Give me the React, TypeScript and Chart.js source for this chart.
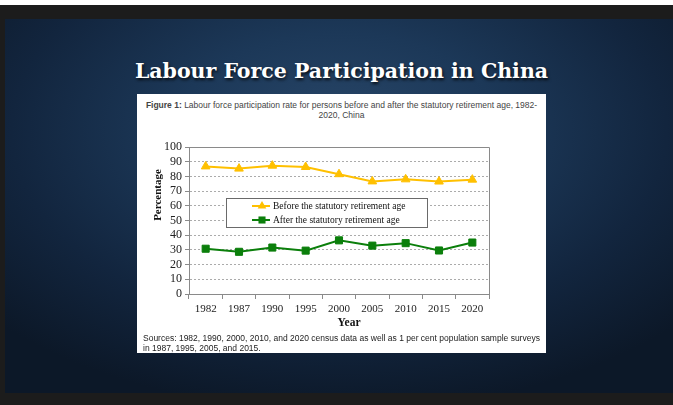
import React, { useEffect, useRef } from 'react';
import { Chart, registerables } from 'chart.js';

Chart.register(...registerables);

// ---- data ----
const YEARS = ['1982', '1987', '1990', '1995', '2000', '2005', '2010', '2015', '2020'];
const BEFORE = [86.8, 85.3, 87.3, 86.4, 81.5, 76.6, 78.0, 76.5, 77.8];
const AFTER = [30.8, 28.7, 31.6, 29.5, 36.5, 32.9, 34.6, 29.6, 35.0];
const SERIES_LABELS = ['Before the statutory retirement age', 'After the statutory retirement age'];
const Y_MIN = 0;
const Y_MAX = 100;
const Y_STEP = 10;
const Y_TITLE = 'Percentage';
const X_TITLE = 'Year';
const SLIDE_TITLE = 'Labour Force Participation in China';
const CAPTION_BOLD = 'Figure 1:';
const CAPTION_LINES = [' Labour force participation rate for persons before and after the statutory retirement age, 1982-', '2020, China'];
const SOURCE_LINES = [
  'Sources: 1982, 1990, 2000, 2010, and 2020 census data as well as 1 per cent population sample surveys',
  'in 1987, 1995, 2005, and 2015.',
];

const GOLD = '#FFC000';
const GREEN = '#0B7F0B';
const AXIS = '#8a8a8a';
const GRID = '#ababab';
const SERIF = "'Liberation Serif', 'Times New Roman', serif";
const SANS = "'Liberation Sans', Arial, sans-serif";
const TITLE_FONT = "'DejaVu Serif', serif";

function drawMarker(ctx: CanvasRenderingContext2D, style: string, x: number, y: number, r: number, color: string) {
  ctx.save();
  ctx.fillStyle = color;
  ctx.beginPath();
  if (style === 'triangle') {
    const h = r * 1.5;
    const w = r * Math.sqrt(3);
    ctx.moveTo(x, y - r);
    ctx.lineTo(x + w / 2, y - r + h);
    ctx.lineTo(x - w / 2, y - r + h);
    ctx.closePath();
  } else {
    const s = r * Math.SQRT1_2;
    ctx.rect(x - s, y - s, 2 * s, 2 * s);
  }
  ctx.fill();
  ctx.restore();
}

const decoPlugin = {
  id: 'deco',
  beforeDatasetsDraw(chart: any) {
    const { ctx, chartArea } = chart;
    const { left, top, right, bottom } = chartArea;
    ctx.save();
    ctx.strokeStyle = AXIS;
    ctx.lineWidth = 1;
    ctx.beginPath();
    ctx.moveTo(Math.round(left) + 0.5, Math.round(top) + 0.5);
    ctx.lineTo(Math.round(right) + 0.5, Math.round(top) + 0.5);
    ctx.lineTo(Math.round(right) + 0.5, Math.round(bottom) + 0.5);
    ctx.stroke();
    ctx.restore();
  },
  afterDatasetsDraw(chart: any) {
    const { ctx, chartArea } = chart;
    const { left, top, bottom } = chartArea;
    ctx.save();
    // legend box inside the plot
    const bx = left + 37;
    const by = top + 51;
    const bw = 201;
    const bh = 29;
    ctx.fillStyle = '#ffffff';
    ctx.fillRect(bx, by, bw, bh);
    ctx.strokeStyle = '#6a6a6a';
    ctx.lineWidth = 1;
    ctx.strokeRect(Math.round(bx) + 0.5, Math.round(by) + 0.5, bw, bh);
    const ds = chart.data.datasets;
    const rows = [by + 8, by + 22];
    ds.forEach((d: any, i: number) => {
      const y = rows[i];
      ctx.strokeStyle = d.borderColor;
      ctx.lineWidth = 2;
      ctx.beginPath();
      ctx.moveTo(bx + 26, y);
      ctx.lineTo(bx + 44, y);
      ctx.stroke();
      drawMarker(ctx, d.pointStyle, bx + 36, y, d.pointRadius, d.backgroundColor);
      ctx.fillStyle = '#111';
      ctx.font = `9.5px ${SERIF}`;
      ctx.textAlign = 'left';
      ctx.textBaseline = 'middle';
      ctx.fillText(d.label, bx + 47, y + 0.5);
    });
    // axis titles
    ctx.fillStyle = '#111';
    ctx.font = `bold 11px ${SERIF}`;
    ctx.textAlign = 'center';
    ctx.textBaseline = 'middle';
    ctx.save();
    ctx.translate(left - 31, top + 48);
    ctx.rotate(-Math.PI / 2);
    ctx.fillText(Y_TITLE, 0, 0);
    ctx.restore();
    ctx.font = `bold 11.5px ${SERIF}`;
    ctx.fillText(X_TITLE, left + 160, bottom + 29);
    ctx.restore();
  },
};

function ChartBox() {
  const ref = useRef<HTMLCanvasElement>(null);
  useEffect(() => {
    const canvas = ref.current;
    if (!canvas) return;
    const chart = new Chart(canvas, {
      type: 'line',
      data: {
        labels: YEARS,
        datasets: [
          {
            label: SERIES_LABELS[0],
            data: BEFORE,
            borderColor: GOLD,
            backgroundColor: GOLD,
            pointBackgroundColor: GOLD,
            pointBorderColor: GOLD,
            pointStyle: 'triangle',
            pointRadius: 5,
            pointBorderWidth: 1,
            borderWidth: 2,
            tension: 0,
          },
          {
            label: SERIES_LABELS[1],
            data: AFTER,
            borderColor: GREEN,
            backgroundColor: GREEN,
            pointBackgroundColor: GREEN,
            pointBorderColor: GREEN,
            pointStyle: 'rect',
            pointRadius: 5,
            pointBorderWidth: 1,
            borderWidth: 2,
            tension: 0,
          },
        ],
      },
      options: {
        responsive: false,
        animation: false,
        layout: { padding: { top: 12, right: 57, left: 0, bottom: 0 } },
        plugins: { legend: { display: false }, tooltip: { enabled: false } },
        scales: {
          x: {
            type: 'category',
            offset: true,
            grid: { offset: true, drawOnChartArea: false, drawTicks: true, tickLength: 5, color: AXIS, tickColor: AXIS },
            border: { display: true, color: AXIS, width: 1 },
            ticks: { font: { family: SERIF, size: 11 }, color: '#222', padding: 4, maxRotation: 0, autoSkip: false },
            afterFit: (s: any) => { s.height = 41; },
          },
          y: {
            min: Y_MIN,
            max: Y_MAX,
            ticks: { stepSize: Y_STEP, autoSkip: false, font: { family: SERIF, size: 12, lineHeight: 1 }, color: '#222', padding: 3 },
            grid: { color: GRID, tickColor: AXIS, tickLength: 4, tickBorderDash: [], drawTicks: true },
            border: { display: true, color: AXIS, width: 1, dash: [2, 2] },
            afterFit: (s: any) => { s.width = 52; },
          },
        },
      },
      plugins: [decoPlugin],
    } as any);
    return () => chart.destroy();
  }, []);
  return (
    <canvas
      ref={ref}
      width={409}
      height={200}
      style={{ position: 'absolute', left: 137, top: 135, width: 409, height: 200 }}
    />
  );
}

export default function App() {
  return (
    <div style={{ position: 'absolute', left: 0, top: 0, width: 673, height: 405, background: '#ffffff', overflow: 'hidden' }}>
      <div style={{ position: 'absolute', left: 0, top: 5, right: 0, bottom: 0, background: '#1c1c1c' }} />
      <div
        style={{
          position: 'absolute',
          left: 5,
          top: 19,
          width: 668,
          height: 374,
          background: 'radial-gradient(ellipse 70% 75% at 50% 30%, #284668 0%, #1c3858 35%, #12253e 70%, #0c1828 100%)',
        }}
      />
      <div
        style={{
          position: 'absolute',
          left: 0,
          top: 57,
          width: 683,
          textAlign: 'center',
          color: '#ffffff',
          fontFamily: TITLE_FONT,
          fontWeight: 'bold',
          fontSize: 20.5,
          lineHeight: '28px',
          textShadow: '1px 2px 3px rgba(0,0,0,0.8)',
          whiteSpace: 'nowrap',
        }}
      >
        {SLIDE_TITLE}
      </div>
      <div style={{ position: 'absolute', left: 137, top: 94, width: 409, height: 259, background: '#ffffff' }} />
      <div
        style={{
          position: 'absolute',
          left: 137,
          top: 101,
          width: 409,
          textAlign: 'center',
          fontFamily: SANS,
          fontSize: 8.5,
          lineHeight: '9.5px',
          color: '#444',
          whiteSpace: 'nowrap',
        }}
      >
        <div>
          <b>{CAPTION_BOLD}</b>
          {CAPTION_LINES[0]}
        </div>
        <div>{CAPTION_LINES[1]}</div>
      </div>
      <ChartBox />
      <div
        style={{
          position: 'absolute',
          left: 143,
          top: 334,
          fontFamily: SANS,
          fontSize: 8.5,
          lineHeight: '9.5px',
          color: '#222',
          whiteSpace: 'nowrap',
        }}
      >
        {SOURCE_LINES.map((l, i) => (
          <div key={i}>{l}</div>
        ))}
      </div>
    </div>
  );
}
